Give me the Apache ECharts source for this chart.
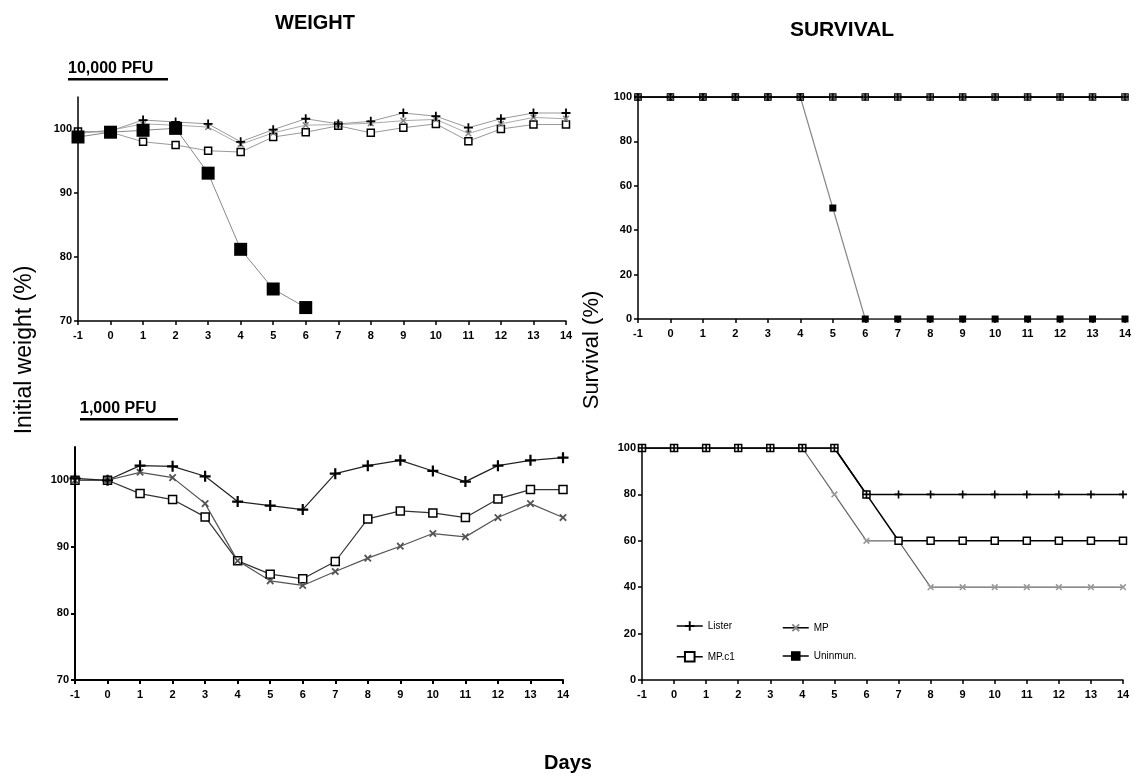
<!DOCTYPE html>
<html>
<head>
<meta charset="utf-8">
<script src="https://cdn.jsdelivr.net/npm/echarts@6/dist/echarts.min.js"></script>
<style>html,body{margin:0;padding:0;background:#fff}#c{width:1135px;height:777px}</style>
</head>
<body>
<div id="c"></div>
<script>
// ---- data ----
const days = [-1,0,1,2,3,4,5,6,7,8,9,10,11,12,13,14];
const weightTicks = [70,80,90,100];
// Weight, 10,000 PFU
const w10Lister = [99.5,99.7,101.4,101.1,100.8,98.0,99.9,101.6,100.8,101.2,102.5,102.0,100.2,101.6,102.5,102.5];
const w10MP     = [99.3,99.8,100.8,100.6,100.3,97.6,99.4,100.6,100.7,100.9,101.3,101.5,99.3,100.8,101.8,101.6];
const w10MPc1   = [99.6,99.5,98.0,97.5,96.6,96.4,98.75,99.5,100.5,99.4,100.2,100.8,98.1,100.0,100.7,100.7];
const w10Unimm  = [98.75,99.5,99.8,100.1,93.1,81.2,75.0,72.1];
// Weight, 1,000 PFU
const w1Lister = [100.3,100.0,102.2,102.1,100.6,96.8,96.2,95.6,101.0,102.2,103.0,101.4,99.8,102.2,103.0,103.4];
const w1MP     = [100.0,100.0,101.2,100.4,96.5,87.9,84.9,84.2,86.3,88.3,90.1,92.0,91.5,94.4,96.5,94.4];
const w1MPc1   = [100.0,100.0,98.0,97.1,94.5,87.9,85.9,85.2,87.8,94.2,95.4,95.1,94.4,97.2,98.6,98.6];
// Survival, 10,000 PFU
const s10Lister = [100,100,100,100,100,100,100,100,100,100,100,100,100,100,100,100];
const s10MP     = [100,100,100,100,100,100,100,100,100,100,100,100,100,100,100,100];
const s10MPc1   = [100,100,100,100,100,100,100,100,100,100,100,100,100,100,100,100];
const s10Unimm  = [100,100,100,100,100,100,50,0,0,0,0,0,0,0,0,0];
// Survival, 1,000 PFU
const s1Lister = [100,100,100,100,100,100,100,80,80,80,80,80,80,80,80,80];
const s1MP     = [100,100,100,100,100,100,80,60,60,40,40,40,40,40,40,40];
const s1MPc1   = [100,100,100,100,100,100,100,80,60,60,60,60,60,60,60,60];

// ---- helpers ----
const pts = arr => arr.map((v,i)=>[days[i],v]);
const FONT = '"Liberation Sans", Arial, sans-serif';
const PLUS = 'path://M4,0H6V4H10V6H6V10H4V6H0V4H4Z';
const grids = [
  {left:78, top:97, width:488, height:224},
  {left:75, top:447, width:488, height:233},
  {left:638, top:97, width:487, height:222},
  {left:642, top:448, width:481, height:232}
];
function xAxis(gi, lw){
  return {type:'value', gridIndex:gi, min:-1, max:14, interval:1,
    axisLine:{onZero:false, lineStyle:{color:'#000', width:lw}},
    axisTick:{inside:false, length:4, lineStyle:{color:'#000', width:lw}},
    axisLabel:{color:'#000', fontFamily:FONT, fontWeight:'bold', fontSize:11, margin:9},
    splitLine:{show:false}};
}
function yWeight(gi, lw){
  return {type:'value', gridIndex:gi, min:70, max:105, interval:10,
    axisLine:{show:true, onZero:false, lineStyle:{color:'#000', width:lw}},
    axisTick:{show:true, length:4, customValues:weightTicks, lineStyle:{color:'#000', width:lw}},
    axisLabel:{color:'#000', fontFamily:FONT, fontWeight:'bold', fontSize:11, margin:6, customValues:weightTicks},
    splitLine:{show:false}};
}
function ySurv(gi, lw){
  return {type:'value', gridIndex:gi, min:0, max:100, interval:20,
    axisLine:{show:true, onZero:false, lineStyle:{color:'#000', width:lw}},
    axisTick:{show:true, length:4, lineStyle:{color:'#000', width:lw}},
    axisLabel:{color:'#000', fontFamily:FONT, fontWeight:'bold', fontSize:11, margin:6},
    splitLine:{show:false}};
}
function ser(name, gi, data, o){
  return Object.assign({type:'line', name, xAxisIndex:gi, yAxisIndex:gi, data:pts(data),
    showAllSymbol:true, silent:true}, o);
}
const lister = (lc,size,lw)=>({symbol:PLUS, symbolSize:size, itemStyle:{color:'#000'}, lineStyle:{color:lc,width:lw}});
const mp = (lc,size,lw,mc)=>({symbol:PLUS, symbolRotate:45, symbolSize:size, itemStyle:{color:mc}, lineStyle:{color:lc,width:lw}});
const mpc1 = (lc,size,lw)=>({symbol:'rect', symbolSize:size, itemStyle:{color:'#fff', borderColor:'#000', borderWidth:1.5}, lineStyle:{color:lc,width:lw}});
const unim = (lc,size,lw)=>({symbol:'rect', symbolSize:size, itemStyle:{color:'#000'}, lineStyle:{color:lc,width:lw}});

const series = [
  // weight 10,000
  ser('MP.c1',0,w10MPc1, mpc1('#999',7,1)),
  ser('MP',0,w10MP, mp('#aaa',8,1,'#888')),
  ser('Lister',0,w10Lister, lister('#999',9,1)),
  ser('Uninmun.',0,w10Unimm, unim('#888',13,1)),
  // weight 1,000
  ser('MP.c1',1,w1MPc1, mpc1('#333',8,1.2)),
  ser('MP',1,w1MP, mp('#555',9,1.2,'#555')),
  ser('Lister',1,w1Lister, lister('#222',11,1.2)),
  // survival 10,000
  ser('MP.c1',2,s10MPc1, mpc1('#000',6,1.5)),
  ser('Uninmun.',2,s10Unimm, unim('#888',7,1.2)),
  ser('MP',2,s10MP, mp('#000',8,1.5,'#666')),
  ser('Lister',2,s10Lister, lister('#000',7,1.5)),
  // survival 1,000
  ser('MP',3,s1MP, mp('#666',8,1.2,'#999')),
  ser('MP.c1',3,s1MPc1, mpc1('#000',7,1.5)),
  ser('Lister',3,s1Lister, lister('#000',8,1.5))
];

function lg(name, left, top){
  return {data:[name], left, top, itemWidth:26, itemHeight:12, itemGap:2, selectedMode:false,
    textStyle:{color:'#000', fontFamily:FONT, fontSize:10}, lineStyle:{color:'#000', width:1.5}};
}

const txt = (x,y,s,size,weight,rot)=>({type:'text', x, y, rotation:rot||0,
  style:{text:s, x:0, y:0, fill:'#000', font:(weight||'bold')+' '+size+'px '+FONT, align:'center', verticalAlign:'middle'}});

const option = {
  animation:false,
  backgroundColor:'#fff',
  grid:grids,
  xAxis:[xAxis(0,1.5),xAxis(1,2),xAxis(2,1.5),xAxis(3,1.5)],
  yAxis:[yWeight(0,1.5),yWeight(1,2),ySurv(2,1.5),ySurv(3,1.5)],
  series,
  legend:[lg('Lister',671,616), lg('MP',777,616), lg('MP.c1',671,646), lg('Uninmun.',777,646)],
  graphic:[
    txt(315,23,'WEIGHT',20),
    txt(842,30,'SURVIVAL',21),
    {type:'text', left:68, top:61, style:{text:'10,000 PFU', fill:'#000', font:'bold 16px '+FONT}},
    {type:'rect', shape:{x:68,y:78,width:100,height:2.5}, style:{fill:'#000'}},
    {type:'text', left:80, top:401, style:{text:'1,000 PFU', fill:'#000', font:'bold 16px '+FONT}},
    {type:'rect', shape:{x:80,y:418,width:98,height:2.5}, style:{fill:'#000'}},
    txt(25,350,'Initial weight (%)',23,'normal',Math.PI/2),
    txt(592,350,'Survival (%)',22,'normal',Math.PI/2),
    txt(568,763,'Days',20)
  ]
};
const chart = echarts.init(document.getElementById('c'), null, {renderer:'canvas'});
chart.setOption(option);
</script>
</body>
</html>
